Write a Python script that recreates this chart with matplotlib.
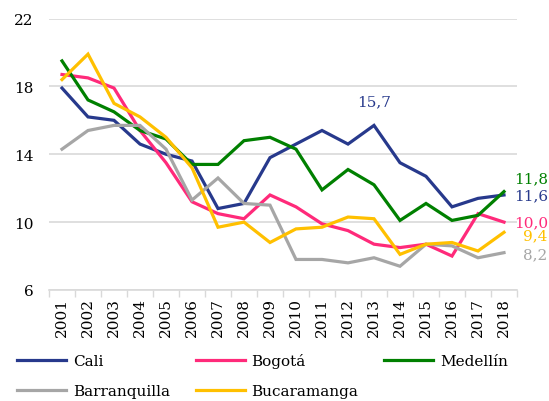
import matplotlib
matplotlib.use("Agg")
import matplotlib.pyplot as plt
import numpy as np

# ----------------------------
# Data
# ----------------------------
years = [str(y) for y in range(2001, 2019)]

cali = [17.9, 16.2, 16.0, 14.6, 14.0, 13.6, 10.8, 11.1, 13.8, 14.6,
        15.4, 14.6, 15.7, 13.5, 12.7, 10.9, 11.4, 11.6]
bogota = [18.7, 18.5, 17.9, 15.4, 13.5, 11.2, 10.5, 10.2, 11.6, 10.9,
          9.9, 9.5, 8.7, 8.5, 8.7, 8.0, 10.5, 10.0]
medellin = [19.5, 17.2, 16.5, 15.4, 14.9, 13.4, 13.4, 14.8, 15.0, 14.3,
            11.9, 13.1, 12.2, 10.1, 11.1, 10.1, 10.4, 11.8]
barranquilla = [14.3, 15.4, 15.7, 15.7, 14.3, 11.3, 12.6, 11.1, 11.0, 7.8,
                7.8, 7.6, 7.9, 7.4, 8.7, 8.6, 7.9, 8.2]
bucaramanga = [18.4, 19.9, 17.0, 16.2, 15.0, 13.2, 9.7, 10.0, 8.8, 9.6,
               9.7, 10.3, 10.2, 8.1, 8.7, 8.8, 8.3, 9.4]

series = [
    ("Cali", cali, "#27398C"),
    ("Bogotá", bogota, "#FF2A7A"),
    ("Medellín", medellin, "#008000"),
    ("Barranquilla", barranquilla, "#A6A6A6"),
    ("Bucaramanga", bucaramanga, "#FFC000"),
]

# label offsets (points) for the end-of-line value labels
end_offsets = {"Cali": 0, "Bogotá": 0, "Medellín": 9.5,
               "Barranquilla": -1.5, "Bucaramanga": -2}

plt.rcParams['font.family'] = ['DejaVu Serif']
plt.rcParams['font.size'] = 11

fig = plt.figure(figsize=(5.49, 4.02), dpi=100)
ax = fig.add_axes([49 / 549, 1 - 291 / 402, (517 - 49) / 549, (291 - 19.5) / 402])

x = np.arange(len(years))
handles = {}
for name, vals, col in series:
    ln, = ax.plot(x, vals, color=col, lw=2.3, solid_joinstyle='miter', label=name)
    handles[name] = ln
    ax.annotate(f"{vals[-1]:.1f}".replace(".", ","), xy=(x[-1], vals[-1]),
                xytext=(31.5, end_offsets[name]), textcoords='offset points',
                ha='right', va='center', color=col, fontsize=11,
                annotation_clip=False)

# peak label for Cali
ax.annotate(f"{cali[12]:.1f}".replace(".", ","), xy=(x[12], cali[12]),
            xytext=(0, 17), textcoords='offset points', ha='center',
            va='center', color="#27398C", fontsize=11)

ax.set_xlim(-0.5, len(years) - 0.5)
ax.set_ylim(6, 22)
ax.set_yticks([6, 10, 14, 18, 22])
ax.set_xticks(x)
ax.set_xticklabels(years, rotation=90)
ax.set_xticks(np.arange(-0.5, len(years), 1), minor=True)
ax.tick_params(axis='x', which='major', length=0, pad=5)
ax.tick_params(axis='x', which='minor', length=5, color='#D9D9D9', width=1)
ax.tick_params(axis='y', length=0, pad=11)
ax.tick_params(labelsize=11, colors='#000000')

ax.grid(axis='y', color='#D9D9D9', lw=1.2)
ax.set_axisbelow(True)
for s in ['top', 'right', 'left']:
    ax.spines[s].set_visible(False)
ax.spines['bottom'].set_color('#D9D9D9')
ax.spines['bottom'].set_linewidth(1.2)

# legend laid out row-wise
order = ["Cali", "Barranquilla", "Bogotá", "Bucaramanga", "Medellín"]
fig.legend([handles[n] for n in order], order, ncol=3, frameon=False,
           loc='upper left', bbox_to_anchor=(17 / 549, 1 - 354 / 402),
           borderpad=0, borderaxespad=0, handlelength=3.2,
           handletextpad=0.45, columnspacing=1.7, labelspacing=1.05,
           fontsize=11)

fig.savefig("out.png", dpi=100)
